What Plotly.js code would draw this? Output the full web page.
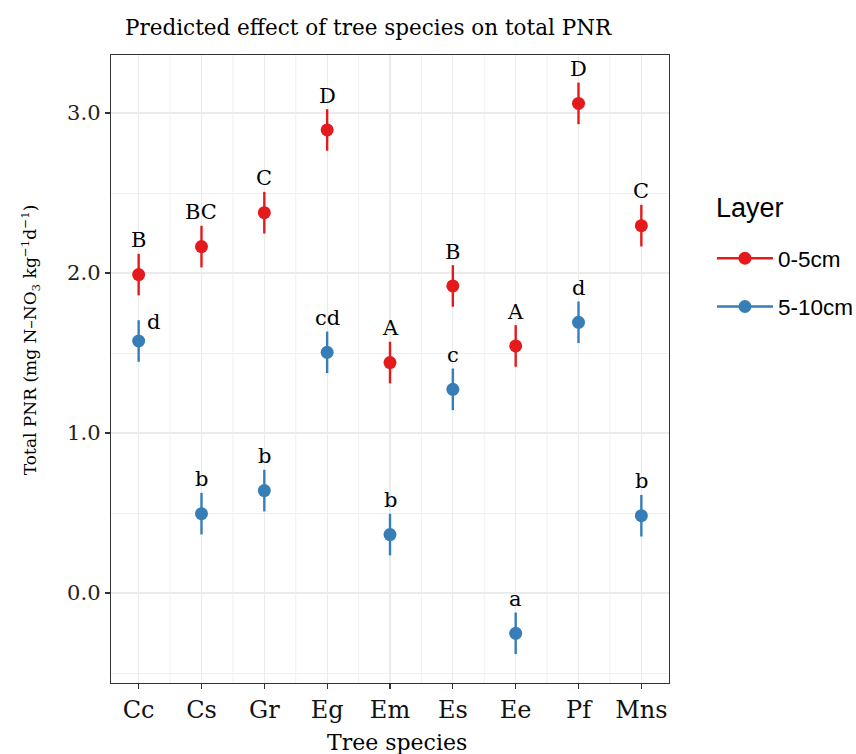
<!DOCTYPE html>
<html>
<head>
<meta charset="utf-8">
<script src="https://cdn.plot.ly/plotly-3.0.1.min.js"></script>
<style>html,body{margin:0;padding:0;background:#fff;}#chart{width:856px;height:754px;}</style>
</head>
<body>
<div id="chart"></div>
<script>
// ---- data ----
const species = ["Cc", "Cs", "Gr", "Eg", "Em", "Es", "Ee", "Pf", "Mns"];
const layerNames = ["0-5cm", "5-10cm"];
const pnr0_5 = [1.99, 2.165, 2.377, 2.894, 1.44, 1.919, 1.544, 3.06, 2.296];
const err0_5 = [0.13, 0.13, 0.13, 0.13, 0.13, 0.13, 0.13, 0.13, 0.13];
const pnr5_10 = [1.575, 0.496, 0.64, 1.504, 0.365, 1.273, -0.252, 1.692, 0.483];
const err5_10 = [0.13, 0.13, 0.13, 0.13, 0.13, 0.13, 0.13, 0.13, 0.13];
const letters0_5 = ["B", "BC", "C", "D", "A", "B", "A", "D", "C"];
const letters5_10 = ["d", "b", "b", "cd", "b", "c", "a", "d", "b"];
const yTickVals = [0, 1, 2, 3];
const yTickText = ["0.0", "1.0", "2.0", "3.0"];

const red = "#E41A1C", blue = "#377EB8";
const serif = "DejaVu Serif, Liberation Serif, serif";
const sans = "Liberation Sans, Arial, sans-serif";

function mainTrace(y, e, color) {
  return {
    type: "scatter", mode: "markers", x: species, y: y,
    marker: {color: color, size: 13},
    error_y: {type: "data", array: e, visible: true, width: 0, thickness: 2.4, color: color},
    showlegend: false, hoverinfo: "x+y"
  };
}
function legendTrace(name, color, group) {
  return {
    type: "scatter", mode: "lines+markers", x: [null], y: [null], name: name,
    legendgroup: group,
    marker: {color: color, size: 13}, line: {color: color, width: 2.4},
    showlegend: true
  };
}

const traces = [
  mainTrace(pnr0_5, err0_5, red),
  mainTrace(pnr5_10, err5_10, blue),
  legendTrace(layerNames[0], red, "a"),
  legendTrace(layerNames[1], blue, "b")
];

// letter annotations placed just above the upper error bar
const annotations = [];
const gap = 0.085;
species.forEach((s, i) => {
  annotations.push({x: s, y: pnr0_5[i] + err0_5[i] + gap, text: letters0_5[i],
    showarrow: false, xref: "x", yref: "y", yanchor: "middle",
    font: {family: serif, size: 21, color: "#000"}});
  const special = (i === 0); // Cc lower-case letter sits to the right of its bar
  annotations.push({x: special ? i + 0.24 : s, y: pnr5_10[i] + err5_10[i] + (special ? -0.01 : gap),
    text: letters5_10[i], showarrow: false, xref: "x", yref: "y", yanchor: "middle",
    font: {family: serif, size: 21, color: "#000"}});
});
// y-axis title
annotations.push({text: "Total PNR (mg N–NO<sub>3</sub> kg<sup>−1</sup>d<sup>−1</sup>)",
  xref: "paper", yref: "paper", x: -0.145, y: 0.546, xanchor: "center", yanchor: "middle",
  textangle: -90, showarrow: false, font: {family: serif, size: 17, color: "#000"}});
// x-axis title
annotations.push({text: "Tree species", xref: "paper", yref: "paper", x: 0.5125, y: -0.094,
  xanchor: "center", yanchor: "middle", showarrow: false,
  font: {family: serif, size: 22, color: "#000"}});
// legend title
annotations.push({text: "Layer", xref: "paper", yref: "paper", x: 1.081, y: 0.756,
  xanchor: "left", yanchor: "middle", showarrow: false,
  font: {family: sans, size: 27, color: "#000"}});

// minor vertical grid lines between categories
const shapes = [];
for (let i = 0; i < species.length - 1; i++) {
  shapes.push({type: "line", xref: "x", yref: "paper", x0: i + 0.5, x1: i + 0.5, y0: 0, y1: 1,
    line: {color: "#f0f0f0", width: 1}, layer: "below"});
}

const layout = {
  width: 856, height: 754,
  margin: {l: 111, r: 187, t: 55, b: 71, autoexpand: false},
  paper_bgcolor: "#fff", plot_bgcolor: "#fff",
  title: {text: "Predicted effect of tree species on total PNR", x: 0.43, xanchor: "center",
    y: 0.964, yanchor: "middle", font: {family: serif, size: 21.5, color: "#000"}},
  xaxis: {
    type: "category", range: [-0.44, 8.44], automargin: false,
    showgrid: true, gridcolor: "#ebebeb", gridwidth: 1.2,
    showline: true, mirror: true, linecolor: "#333", linewidth: 1.3,
    ticks: "outside", ticklen: 5, tickcolor: "#333", tickwidth: 1.2,
    tickfont: {family: serif, size: 24, color: "#111"},
    zeroline: false
  },
  yaxis: {
    range: [-0.5625, 3.3625], automargin: false,
    tickvals: yTickVals, ticktext: yTickText,
    showgrid: true, gridcolor: "#ebebeb", gridwidth: 1.2,
    minor: {dtick: 0.5, tick0: 0, showgrid: true, gridcolor: "#f0f0f0", gridwidth: 1, ticks: ""},
    showline: true, mirror: true, linecolor: "#333", linewidth: 1.3,
    ticks: "outside", ticklen: 5, tickcolor: "#333", tickwidth: 1.2,
    tickfont: {family: serif, size: 21, color: "#222"},
    zeroline: false
  },
  legend: {
    x: 1.077, xanchor: "left", y: 0.71, yanchor: "top",
    font: {family: sans, size: 22.5, color: "#000"},
    itemwidth: 56, tracegroupgap: 16, bgcolor: "rgba(0,0,0,0)"
  },
  annotations: annotations,
  shapes: shapes
};

Plotly.newPlot("chart", traces, layout, {displayModeBar: false, staticPlot: true});
</script>
</body>
</html>
